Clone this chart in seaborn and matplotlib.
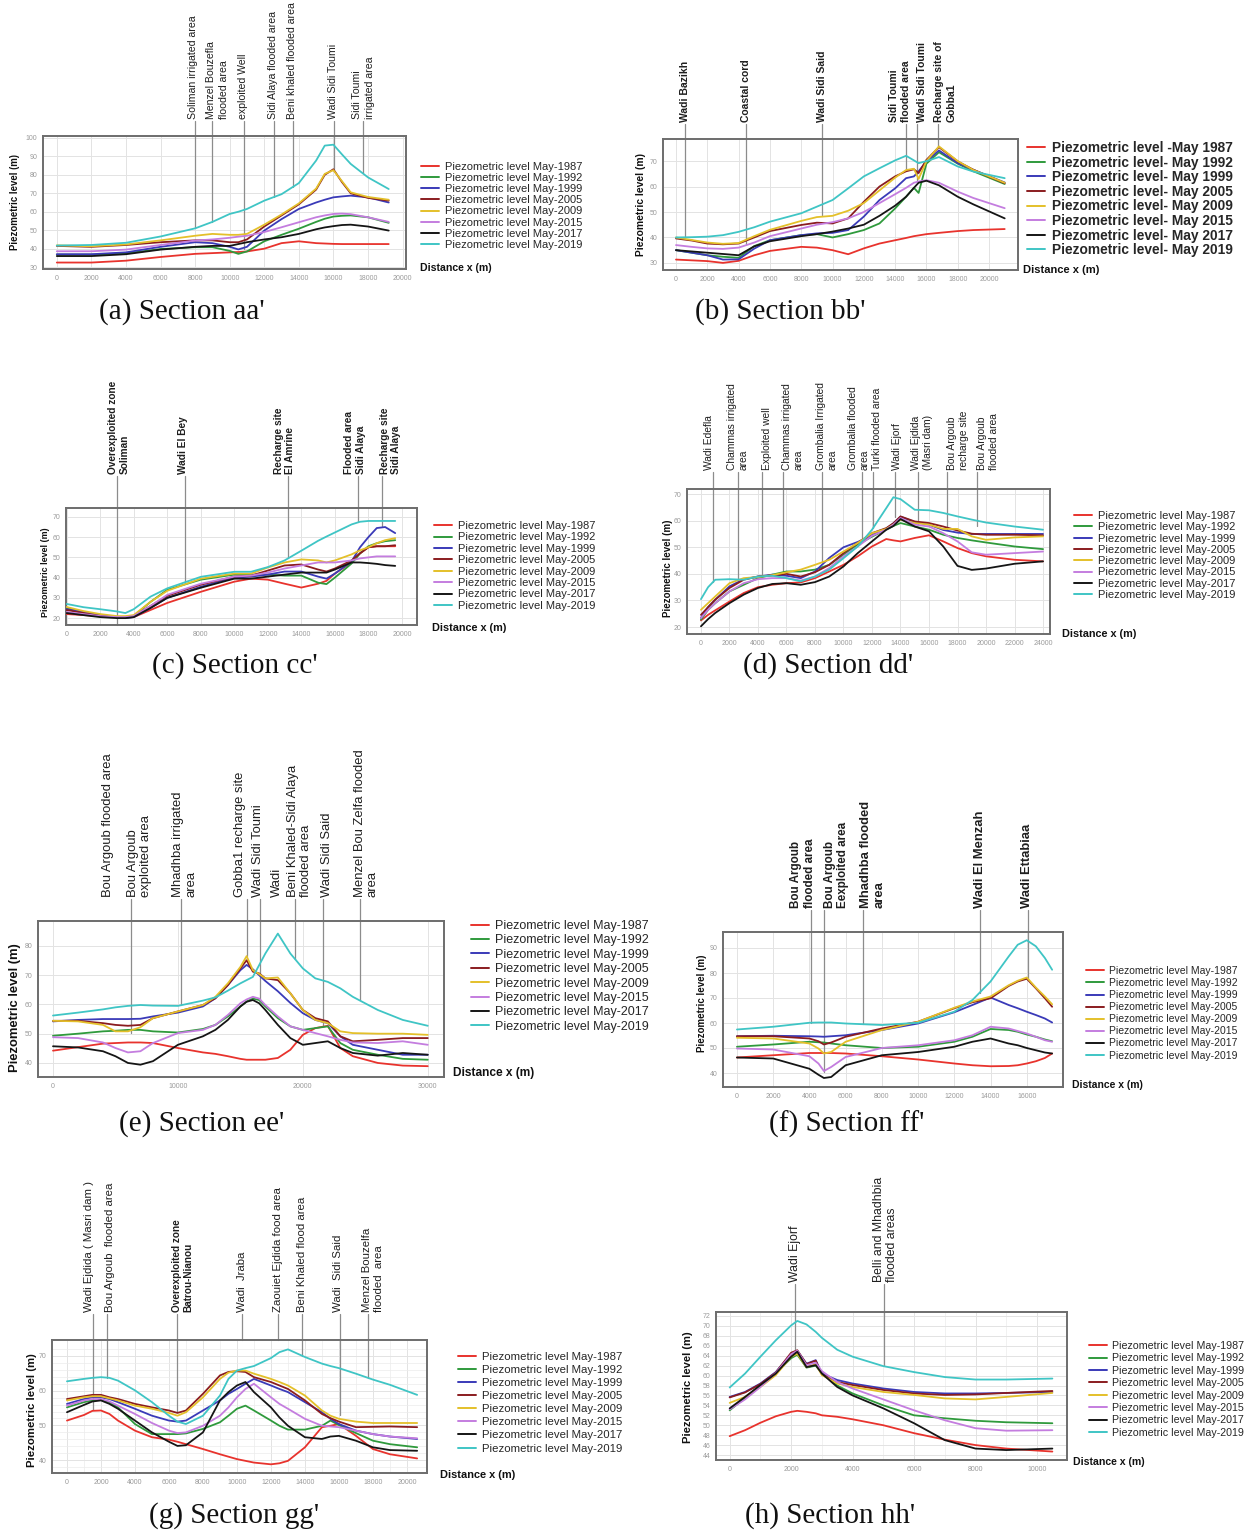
import numpy as np
import pandas as pd
import matplotlib
matplotlib.use("Agg")
import matplotlib.pyplot as plt
import matplotlib.transforms as mtrans
from matplotlib.lines import Line2D
import seaborn as sns

YEARS = ["1987", "1992", "1999", "2005", "2009", "2015", "2017", "2019"]
COLORS = ["#e8332d", "#2f9a3c", "#3a3ab8", "#8a1c1f", "#e4c02a", "#c47ddf", "#151515", "#3fc5c5"]

# ---------------- Section aa' ----------------
a_x = [0, 2000, 4000, 6000, 8000, 9000, 10000, 10500, 11000, 12000, 13000, 14000, 15000, 15500, 16000, 16500, 17000, 18000, 19200]
a_1987 = [32.5, 32.5, 33.5, 35.5, 37.2, 37.6, 38.0, 38.2, 38.5, 40.0, 43.0, 44.0, 43.0, 42.8, 42.6, 42.5, 42.5, 42.5, 42.5]
a_1992 = [36.8, 36.8, 37.5, 39.8, 40.8, 40.8, 38.8, 37.2, 38.5, 44.0, 47.5, 50.8, 54.5, 56.2, 57.4, 57.8, 58.0, 57.0, 54.0]
a_1999 = [37.0, 37.0, 38.0, 41.0, 43.5, 43.0, 41.0, 39.6, 41.0, 49.8, 56.0, 61.5, 65.0, 66.5, 67.8, 68.3, 68.7, 67.8, 65.0]
a_2005 = [41.5, 41.0, 42.0, 43.5, 44.5, 44.5, 43.5, 43.5, 45.0, 52.0, 58.0, 64.0, 72.0, 80.0, 83.0, 76.0, 70.0, 67.5, 66.0]
a_2009 = [41.8, 41.3, 42.3, 44.5, 47.0, 48.0, 47.5, 47.5, 48.0, 53.0, 58.5, 64.5, 72.5, 80.5, 82.5, 76.5, 70.5, 68.0, 66.5]
a_2015 = [38.6, 38.6, 39.5, 42.0, 44.4, 45.0, 45.9, 46.5, 47.0, 49.0, 51.6, 54.3, 57.0, 58.0, 58.8, 59.0, 58.7, 57.0, 54.5]
a_2017 = [36.0, 36.0, 37.0, 39.5, 41.0, 41.5, 41.5, 42.5, 43.5, 45.0, 46.2, 48.0, 50.5, 51.5, 52.2, 52.8, 53.0, 52.0, 49.8]
a_2019 = [41.7, 42.0, 43.2, 46.6, 51.0, 54.5, 58.8, 60.0, 61.5, 66.0, 69.5, 75.5, 87.7, 95.8, 96.3, 91.0, 85.9, 78.6, 72.3]

# ---------------- Section bb' ----------------
b_x = [0, 1000, 2000, 3000, 4000, 5000, 6000, 8000, 9000, 10000, 11000, 12000, 13000, 14000, 14700, 15200, 15500, 16000, 16800, 18000, 19000, 21000]
b_1987 = [31.3, 31.0, 30.7, 30.0, 30.8, 33.0, 34.7, 36.3, 36.0, 35.0, 33.4, 35.7, 37.6, 38.9, 39.8, 40.5, 40.8, 41.3, 41.8, 42.5, 42.9, 43.3]
b_1992 = [35.0, 34.0, 33.0, 32.4, 32.0, 36.6, 38.9, 40.9, 41.3, 40.0, 41.3, 42.9, 45.5, 51.4, 56.0, 59.5, 57.5, 69.0, 73.5, 69.0, 66.0, 61.0]
b_1999 = [35.0, 34.0, 33.0, 31.3, 31.4, 35.6, 38.9, 40.9, 41.6, 41.8, 42.9, 48.2, 54.7, 59.3, 63.3, 64.0, 66.0, 69.9, 74.2, 69.2, 66.6, 61.6]
b_2005 = [39.6, 38.8, 37.6, 37.3, 37.6, 40.0, 42.5, 44.9, 45.8, 45.5, 47.5, 54.0, 60.0, 64.0, 66.0, 66.8, 65.3, 70.5, 75.5, 69.9, 66.6, 61.3]
b_2009 = [40.0, 39.0, 38.0, 37.5, 37.8, 40.5, 43.0, 46.5, 48.0, 48.5, 50.5, 53.5, 58.5, 63.5, 66.5, 67.0, 63.0, 70.0, 75.8, 70.0, 66.5, 61.5]
b_2015 = [37.0, 36.3, 35.7, 35.5, 36.0, 38.0, 40.5, 43.5, 45.0, 46.0, 47.5, 50.0, 53.5, 57.0, 59.5, 61.5, 62.0, 62.5, 61.5, 58.0, 55.5, 51.5]
b_2017 = [35.0, 34.5, 34.0, 33.5, 33.0, 36.5, 38.5, 40.5, 41.3, 42.3, 43.5, 45.0, 48.5, 52.5, 56.0, 59.5, 61.5, 62.3, 60.5, 56.0, 53.0, 47.5]
b_2019 = [40.0, 40.1, 40.3, 40.9, 42.2, 44.0, 46.2, 49.5, 52.1, 54.7, 59.3, 64.0, 67.2, 70.3, 72.1, 70.3, 69.2, 70.0, 71.6, 67.9, 65.9, 63.3]

# ---------------- Section cc' ----------------
c_x = [0, 1000, 2000, 3000, 3500, 4000, 5000, 6000, 8000, 10000, 11000, 12000, 13000, 14000, 15000, 15500, 16000, 17000, 17500, 18000, 18500, 19000, 19600]
c_1987 = [22.0, 21.5, 21.0, 20.5, 20.3, 20.5, 24.0, 27.5, 33.0, 38.0, 39.5, 39.0, 37.0, 35.1, 37.0, 38.4, 42.0, 47.6, 52.0, 55.0, 55.5, 55.5, 55.5]
c_1992 = [25.0, 23.0, 21.5, 20.5, 20.0, 21.0, 28.0, 34.0, 39.0, 41.5, 41.5, 41.5, 41.0, 41.0, 37.5, 36.8, 40.0, 47.0, 52.0, 55.5, 57.0, 58.0, 58.5]
c_1999 = [24.5, 23.0, 21.5, 20.5, 20.0, 20.5, 25.0, 30.0, 35.5, 40.0, 40.5, 41.5, 43.0, 43.0, 40.5, 39.5, 42.0, 48.0, 55.0, 60.0, 64.5, 65.0, 62.0]
c_2005 = [24.0, 22.5, 21.0, 20.5, 20.5, 21.0, 26.0, 31.0, 36.5, 40.5, 41.0, 43.5, 46.0, 46.5, 44.0, 43.0, 44.5, 48.5, 52.0, 55.0, 55.5, 55.5, 56.0]
c_2009 = [25.5, 23.5, 22.0, 21.0, 21.0, 21.5, 28.0, 33.5, 39.5, 42.0, 42.0, 45.0, 47.5, 49.0, 48.5, 47.5, 48.5, 51.5, 53.5, 55.0, 57.0, 58.5, 59.5]
c_2015 = [23.0, 22.0, 21.0, 20.5, 20.5, 21.0, 26.0, 31.5, 37.0, 40.5, 41.0, 42.5, 44.5, 46.0, 47.5, 47.5, 47.5, 48.5, 49.5, 50.0, 50.5, 50.5, 50.5]
c_2017 = [22.5, 21.5, 20.5, 20.0, 20.0, 20.5, 25.0, 30.0, 35.0, 39.5, 39.5, 40.5, 41.5, 42.5, 42.5, 42.5, 44.0, 47.5, 47.5, 47.2, 46.8, 46.2, 45.8]
c_2019 = [27.0, 25.4, 24.4, 23.3, 22.5, 24.4, 30.6, 34.7, 40.4, 42.9, 42.9, 45.2, 48.5, 53.3, 58.2, 60.3, 62.3, 66.3, 67.6, 68.0, 68.0, 68.0, 68.0]

# ---------------- Section dd' ----------------
d_x = [0, 500, 1000, 2000, 3000, 4000, 5000, 6000, 7000, 8000, 9000, 10000, 11000, 12000, 13000, 13500, 14000, 15000, 16000, 17000, 18000, 19000, 20000, 22000, 24000]
d_1987 = [22.5, 24.6, 26.3, 29.6, 32.8, 35.0, 35.9, 36.5, 36.8, 38.4, 40.9, 43.4, 46.6, 50.3, 53.1, 52.6, 52.2, 53.5, 54.5, 52.2, 49.7, 47.8, 46.6, 45.3, 44.7]
d_1992 = [22.8, 26.5, 29.0, 33.4, 35.9, 38.4, 39.7, 40.9, 40.9, 41.6, 43.4, 47.2, 51.0, 54.0, 56.6, 58.0, 59.1, 57.8, 56.6, 54.7, 53.5, 52.6, 51.8, 50.3, 49.3]
d_1999 = [23.5, 27.5, 30.3, 35.3, 38.0, 39.0, 39.7, 39.3, 38.4, 40.9, 46.0, 50.0, 52.0, 54.5, 57.0, 59.0, 61.5, 59.5, 58.5, 56.5, 55.5, 55.0, 55.0, 55.0, 55.0]
d_2005 = [24.6, 27.5, 30.3, 34.7, 37.8, 39.0, 39.4, 40.0, 39.0, 40.6, 43.4, 47.8, 51.6, 55.3, 57.2, 59.0, 61.6, 59.7, 59.1, 57.8, 56.3, 55.1, 54.7, 54.7, 54.5]
d_2009 = [26.5, 29.0, 31.5, 36.5, 38.4, 38.8, 39.5, 40.6, 41.6, 43.4, 45.3, 48.4, 51.6, 55.3, 56.9, 58.5, 60.4, 59.1, 58.5, 56.9, 56.9, 54.1, 52.8, 53.7, 54.1]
d_2015 = [23.4, 26.5, 29.0, 33.4, 36.5, 38.0, 38.4, 38.4, 37.5, 39.0, 42.2, 46.6, 50.3, 54.3, 56.6, 58.5, 61.0, 58.5, 57.8, 55.3, 52.2, 48.1, 47.2, 47.8, 48.4]
d_2017 = [20.3, 23.0, 25.3, 29.0, 32.2, 34.7, 36.2, 36.5, 35.9, 36.9, 39.0, 42.8, 47.8, 52.2, 56.6, 58.0, 60.6, 57.8, 56.0, 50.3, 43.0, 41.5, 42.0, 43.8, 44.7]
d_2019 = [30.5, 35.0, 37.8, 38.0, 37.8, 39.0, 39.3, 38.4, 37.2, 39.0, 41.6, 45.9, 50.3, 56.6, 64.7, 68.8, 68.1, 64.1, 63.9, 62.9, 61.6, 60.4, 59.3, 57.8, 56.6]

# ---------------- Section ee' ----------------
e_x = [0, 2000, 4000, 5000, 6000, 7000, 8000, 10000, 12000, 13000, 14000, 15000, 15500, 16000, 16500, 17000, 18000, 19000, 20000, 21000, 22000, 23000, 24000, 26000, 28000, 30000]
e_1987 = [44.2, 45.4, 46.6, 46.8, 47.0, 47.0, 46.8, 45.1, 43.6, 43.1, 42.3, 41.4, 41.1, 41.1, 41.1, 41.1, 41.7, 44.5, 49.6, 51.9, 52.7, 45.1, 42.3, 40.0, 39.1, 38.9]
e_1992 = [49.3, 50.0, 50.8, 51.0, 51.3, 51.3, 50.8, 50.4, 51.6, 53.0, 55.9, 59.3, 61.0, 62.0, 61.5, 59.3, 55.3, 52.5, 51.3, 51.9, 52.5, 46.8, 44.5, 42.8, 41.4, 41.1]
e_1999 = [54.2, 54.7, 55.0, 55.0, 55.0, 55.1, 55.9, 57.2, 59.3, 62.1, 66.6, 71.7, 73.5, 72.0, 70.0, 68.0, 64.5, 60.5, 57.0, 54.7, 53.6, 49.1, 46.2, 44.5, 42.8, 42.8]
e_2005 = [54.4, 54.4, 53.6, 53.0, 52.7, 53.0, 55.3, 57.6, 59.8, 62.1, 66.6, 72.3, 75.1, 71.2, 70.6, 68.9, 68.3, 63.8, 58.1, 55.3, 54.2, 49.1, 47.4, 47.9, 48.5, 48.5]
e_2009 = [54.4, 54.2, 53.0, 50.8, 50.8, 52.2, 55.3, 57.6, 59.8, 62.6, 67.2, 72.8, 76.5, 71.7, 70.4, 68.9, 69.2, 63.8, 58.1, 54.7, 53.6, 50.8, 50.2, 50.0, 50.0, 49.6]
e_2015 = [48.8, 48.5, 47.0, 45.1, 43.6, 44.0, 46.8, 50.2, 51.3, 53.0, 56.4, 60.4, 61.7, 62.6, 62.0, 59.8, 55.9, 52.5, 51.3, 50.2, 49.1, 47.9, 47.0, 46.8, 47.4, 46.2]
e_2017 = [45.7, 45.3, 44.0, 42.3, 40.0, 39.4, 40.6, 46.2, 49.1, 51.3, 54.7, 59.3, 60.9, 61.5, 60.4, 58.1, 53.0, 48.5, 46.2, 46.8, 47.4, 45.1, 43.4, 42.5, 43.4, 42.8]
e_2019 = [56.2, 57.2, 58.3, 59.0, 59.5, 59.8, 59.6, 59.5, 61.3, 62.4, 64.7, 67.2, 68.3, 69.4, 73.4, 77.4, 84.2, 77.4, 72.3, 68.9, 67.7, 65.5, 62.6, 58.1, 54.7, 52.7]

# ---------------- Section ff' ----------------
f_x = [0, 2000, 4000, 4500, 4800, 5200, 6000, 8000, 10000, 12000, 13000, 14000, 15000, 15500, 16000, 16500, 17000, 17400]
f_1987 = [46.2, 47.1, 48.0, 48.0, 48.0, 48.0, 47.8, 46.7, 45.4, 43.8, 43.1, 42.7, 42.8, 43.1, 43.8, 44.7, 46.0, 47.8]
f_1992 = [50.5, 51.4, 52.5, 52.3, 52.2, 51.8, 51.1, 50.0, 50.5, 52.5, 54.5, 57.6, 57.2, 56.5, 55.4, 54.5, 53.4, 52.7]
f_1999 = [54.7, 54.9, 54.7, 54.6, 54.5, 54.7, 55.1, 57.2, 59.8, 64.3, 67.2, 70.2, 67.2, 65.9, 64.5, 63.2, 61.8, 60.2]
f_2005 = [54.7, 54.7, 53.8, 52.7, 51.4, 52.2, 54.5, 57.8, 60.5, 65.9, 68.3, 69.9, 74.8, 76.6, 77.7, 73.9, 69.9, 66.5]
f_2009 = [54.1, 53.8, 51.8, 49.8, 47.8, 48.4, 52.5, 57.2, 60.5, 66.1, 68.6, 70.6, 75.1, 76.9, 78.2, 74.2, 70.6, 67.5]
f_2015 = [49.8, 49.4, 46.7, 43.8, 40.8, 42.4, 46.4, 50.0, 51.1, 53.1, 55.1, 58.5, 57.8, 56.8, 55.8, 54.5, 53.1, 52.5]
f_2017 = [46.2, 45.8, 41.7, 39.3, 38.0, 38.4, 43.1, 47.1, 48.4, 50.5, 52.5, 53.8, 51.8, 51.1, 50.0, 49.1, 48.2, 47.8]
f_2019 = [57.4, 58.5, 60.1, 60.2, 60.2, 60.2, 59.8, 59.2, 60.1, 64.5, 69.2, 76.6, 86.6, 91.3, 93.1, 90.7, 86.0, 81.3]

# ---------------- Section gg' ----------------
g_x = [0, 1000, 1500, 2000, 2500, 3000, 4000, 5000, 6000, 6500, 7000, 8000, 9000, 9500, 10000, 10500, 11000, 12000, 12500, 13000, 14000, 15000, 15500, 16000, 17000, 18000, 19000, 20600]
g_1987 = [51.4, 53.0, 54.2, 54.3, 53.3, 51.4, 48.5, 46.6, 45.9, 45.3, 44.6, 43.2, 41.7, 41.0, 40.3, 39.8, 39.3, 38.8, 39.1, 39.8, 43.7, 49.5, 49.9, 50.4, 47.0, 43.2, 41.7, 40.5]
g_1992 = [55.2, 56.7, 57.2, 57.4, 56.7, 55.2, 50.4, 47.5, 47.5, 47.5, 47.7, 49.0, 50.9, 52.8, 54.8, 55.7, 54.3, 51.4, 49.9, 48.8, 48.8, 49.9, 51.4, 50.1, 47.8, 45.6, 44.6, 43.7]
g_1999 = [56.2, 57.6, 58.1, 58.1, 57.6, 56.7, 54.8, 52.8, 51.4, 51.1, 51.4, 54.3, 57.2, 59.1, 60.5, 62.0, 63.4, 61.5, 60.5, 59.6, 56.7, 53.8, 51.9, 50.4, 48.5, 47.5, 46.8, 46.1]
g_2005 = [57.6, 58.4, 58.8, 58.8, 58.1, 57.6, 56.2, 55.2, 54.3, 53.6, 54.3, 59.1, 64.4, 65.4, 65.6, 65.4, 63.9, 62.5, 61.5, 60.5, 57.2, 53.3, 52.1, 51.1, 49.5, 49.6, 49.7, 49.5]
g_2009 = [57.2, 58.1, 58.4, 58.4, 57.8, 57.2, 55.7, 54.8, 53.6, 52.8, 53.8, 58.1, 63.4, 65.2, 65.8, 65.8, 64.9, 63.4, 62.5, 61.5, 58.6, 54.3, 52.8, 51.9, 51.1, 50.7, 50.7, 50.7]
g_2015 = [55.7, 57.2, 57.6, 57.6, 56.9, 55.7, 53.3, 50.7, 48.5, 47.8, 48.0, 49.9, 52.8, 55.2, 58.1, 60.5, 62.0, 58.1, 56.2, 54.8, 51.9, 49.9, 49.7, 49.5, 48.5, 47.5, 46.8, 46.3]
g_2017 = [53.8, 55.9, 56.9, 57.2, 56.2, 54.8, 51.4, 48.0, 45.3, 44.1, 44.3, 48.0, 57.2, 59.6, 61.5, 62.5, 59.6, 55.2, 52.3, 49.9, 46.6, 46.1, 46.8, 47.0, 45.6, 43.7, 42.9, 42.7]
g_2019 = [62.7, 63.4, 63.7, 63.9, 63.7, 62.9, 60.1, 56.7, 52.8, 51.1, 50.4, 52.8, 58.6, 63.4, 65.8, 66.5, 67.1, 69.4, 71.1, 71.9, 69.7, 67.8, 67.1, 66.5, 64.9, 63.2, 61.7, 58.8]

# ---------------- Section hh' ----------------
h_x = [0, 500, 1000, 1500, 2000, 2200, 2500, 2800, 3000, 3500, 4000, 5000, 6000, 7000, 8000, 9000, 10500]
h_1987 = [47.8, 49.0, 50.5, 51.8, 52.7, 52.9, 52.7, 52.4, 52.0, 51.7, 51.2, 50.0, 48.4, 47.1, 46.0, 45.3, 44.7]
h_1992 = [53.0, 55.5, 58.0, 60.5, 63.5, 64.2, 61.6, 62.0, 60.5, 58.0, 56.4, 54.0, 52.0, 51.4, 50.9, 50.6, 50.4]
h_1999 = [55.7, 56.7, 58.4, 60.7, 64.4, 65.0, 62.4, 63.1, 60.4, 59.1, 58.4, 57.4, 56.7, 56.4, 56.4, 56.5, 56.7]
h_2005 = [55.6, 56.6, 58.3, 60.6, 64.6, 65.1, 62.3, 63.0, 60.3, 58.7, 58.1, 57.1, 56.4, 56.1, 56.2, 56.5, 56.9]
h_2009 = [54.5, 55.7, 57.7, 60.1, 63.8, 64.4, 61.7, 62.3, 60.1, 58.4, 57.7, 56.7, 56.1, 55.4, 55.2, 55.7, 56.5]
h_2015 = [53.2, 55.2, 57.7, 60.5, 64.3, 65.0, 62.1, 62.6, 60.9, 58.7, 57.4, 55.2, 53.0, 51.0, 49.4, 48.9, 49.0]
h_2017 = [53.4, 55.7, 58.1, 60.4, 63.8, 64.8, 61.7, 62.1, 60.4, 57.7, 56.0, 53.4, 50.4, 47.0, 45.3, 45.0, 45.3]
h_2019 = [57.6, 60.4, 63.8, 67.1, 70.1, 71.0, 70.3, 68.8, 67.6, 65.2, 63.8, 61.9, 60.7, 59.7, 59.2, 59.2, 59.4]

# legend labels
LAB_STD = ["Piezometric level May-" + y for y in YEARS]
LAB_B = ["Piezometric level -May 1987"] + ["Piezometric level- May " + y for y in YEARS[1:]]

# site annotations: (label, line x, text x, line end level)
a_notes = [("Soliman irrigated area", 8000, 7900, None),
           ("Menzel Bouzefla\nflooded area", 9000, 9300, None),
           ("exploited Well", 10800, 10750, 40),
           ("Sidi Alaya flooded area", 12550, 12500, None),
           ("Beni khaled flooded area", 13650, 13600, None),
           ("Wadi Sidi Toumi", 16050, 16000, 83),
           ("Sidi Toumi\nirrigated area", 17700, 17750, None)]
b_notes = [("Wadi Bazikh", 600, 580, None),
           ("Coastal cord", 4450, 4450, 37.5),
           ("Wadi Sidi Said", 9300, 9300, 49),
           ("Sidi Toumi\nflooded area", 14700, 14300, 67),
           ("Wadi Sidi Toumi", 15400, 15700, 62.5),
           ("Recharge site of\nGobba1", 16750, 17200, None)]
c_notes = [("Overexploited zone\nSoliman", 3000, 3100, "bottom"),
           ("Wadi El Bey", 7050, 6950, None),
           ("Recharge site\nEl Amrine", 13200, 13000, None),
           ("Flooded area\nSidi Alaya", 17400, 17200, None),
           ("Recharge site\nSidi Alaya", 18800, 19300, 65.5)]
d_notes = [("Wadi Edefla", 850, 560, None),
           ("Chammas irrigated\narea", 2600, 2600, None),
           ("Exploited well", 4280, 4630, None),
           ("Chammas irrigated\narea", 5750, 6460, None),
           ("Grombalia Irrigated\narea", 8500, 8840, None),
           ("Grombalia flooded\narea", 11300, 11090, None),
           ("Turki flooded area", 12070, 12350, None),
           ("Wadi Ejorf", 13600, 13750, 61.5),
           ("Wadi Ejdida\n(Masri dam)", 15230, 15510, 58.5),
           ("Bou Argoub\nrecharge site", 17260, 18030, 57),
           ("Bou Argoub\nflooded area", 19370, 20140, 58)]
e_notes = [("Bou Argoub flooded area", None, 4400, None),
           ("Bou Argoub\nexploited area", 6240, 6900, 50.2),
           ("Mhadhba irrigated\narea", 10240, 10560, None),
           ("Gobba1 recharge site", 15500, 14960, None),
           ("Wadi Sidi Toumi", 16600, 16400, 61),
           ("Wadi", None, 17900, None),
           ("Beni Khaled-Sidi Alaya\nflooded area", 19360, 19760, None),
           ("Wadi Sidi Said", 21600, 21900, 52.5),
           ("Menzel Bou Zelfa flooded\narea", 24560, 25100, None)]
f_notes = [("Bou Argoub\nflooded area", 4080, 3640, None),
           ("Bou Argoub\nEexploited area", 4800, 5500, 40.5),
           ("Mhadhba flooded\narea", 6950, 7500, None),
           ("Wadi El Menzah", 13400, 13400, None),
           ("Wadi Ettabiaa", 16050, 16000, 77.5)]
g_notes = [("Wadi Ejdida ( Masri dam )", 1530, 1300, 54.3),
           ("Bou Argoub  flooded area", 2350, 2530, None),
           ("Overexploited zone\nBatrou-Nianou", 6470, 6820, 53.8),
           ("Wadi  Jraba", 10290, 10290, "top"),
           ("Zaouiet Ejdida food area", 12410, 12410, "top"),
           ("Beni Khaled flood area", 13820, 13820, None),
           ("Wadi  Sidi Said", 16060, 15950, 53),
           ("Menzel Bouzelfa\nflooded  area", 17700, 18000, None)]
h_notes = [("Wadi Ejorf", 2140, 2140, 64.5),
           ("Belli and Mhadhbia\nflooded areas", 5030, 5060, None)]

sns.set_style("white")
plt.rcParams["font.family"] = ["Liberation Sans", "DejaVu Sans"]

W, H = 1246, 1533
fig = plt.figure(figsize=(W / 100, H / 100), dpi=100)
fig.patch.set_facecolor("white")


def fy(py):
    return 1 - py / H


PANELS = [
    dict(x=a_x, s=[a_1987, a_1992, a_1999, a_2005, a_2009, a_2015, a_2017, a_2019], notes=a_notes,
         box=(43, 136, 406, 269), xlim=(-800, 20200), ylim=(29, 101), xt=range(0, 20001, 2000), yt=range(30, 101, 10),
         nfs=7.6, nw="normal", nls=1.45, nb=121, leg=(421, 162, 8.0, "normal", 0.10), labels=LAB_STD,
         xl=(420, 268, 7.6), yl=(15, 202, 6.9), cap=("(a) Section aa'", 182, 312)),
    dict(x=b_x, s=[b_1987, b_1992, b_1999, b_2005, b_2009, b_2015, b_2017, b_2019], notes=b_notes,
         box=(663, 139, 1018, 270), xlim=(-830, 21850), ylim=(27.2, 78.7), xt=range(0, 20001, 2000), yt=range(30, 71, 10),
         nfs=7.5, nw="bold", nls=1.25, nb=124, leg=(1027, 141, 9.9, "bold", 0.043), labels=LAB_B,
         xl=(1023, 270, 8.0), yl=(641, 205, 7.4), cap=("(b) Section bb'", 780, 312)),
    dict(x=c_x, s=[c_1987, c_1992, c_1999, c_2005, c_2009, c_2015, c_2017, c_2019], notes=c_notes,
         box=(66, 508, 417, 625), xlim=(-40, 20900), ylim=(16.6, 74.4), xt=range(0, 20001, 2000), yt=range(20, 71, 10),
         nfs=7.3, nw="bold", nls=1.15, nb=476, leg=(434, 521, 8.0, "normal", 0.126), labels=LAB_STD,
         xl=(432, 628, 7.8), yl=(45, 572, 6.4), cap=("(c) Section cc'", 235, 666)),
    dict(x=d_x, s=[d_1987, d_1992, d_1999, d_2005, d_2009, d_2015, d_2017, d_2019], notes=d_notes,
         box=(687, 489, 1050, 634), xlim=(-980, 24490), ylim=(17.4, 71.9), xt=range(0, 24001, 2000), yt=range(20, 71, 10),
         nfs=7.4, nw="normal", nls=1.25, nb=472, leg=(1074, 511, 8.0, "normal", 0.117), labels=LAB_STD,
         xl=(1062, 634, 7.8), yl=(668, 568, 7.0), cap=("(d) Section dd'", 828, 666)),
    dict(x=e_x, s=[e_1987, e_1992, e_1999, e_2005, e_2009, e_2015, e_2017, e_2019], notes=e_notes,
         box=(38, 921, 444, 1077), xlim=(-1200, 31300), ylim=(35.2, 88.5), xt=range(0, 30001, 10000), yt=range(40, 81, 10),
         nfs=9.4, nw="normal", nls=1.1, nb=899, leg=(471, 920, 9.0, "normal", 0.19), labels=LAB_STD,
         xl=(453, 1073, 8.6), yl=(15, 1008, 9.4), cap=("(e) Section ee'", 202, 1124)),
    dict(x=f_x, s=[f_1987, f_1992, f_1999, f_2005, f_2009, f_2015, f_2017, f_2019], notes=f_notes,
         box=(723, 932, 1063, 1087), xlim=(-770, 18000), ylim=(34.4, 96.4), xt=range(0, 16001, 2000), yt=range(40, 91, 10),
         nfs=9.4, nw="bold", nls=1.15, nb=910, leg=(1086, 966, 7.5, "normal", 0.20), labels=LAB_STD,
         xl=(1072, 1085, 7.5), yl=(702, 1003, 7.0), cap=("(f) Section ff'", 847, 1124)),
    dict(x=g_x, s=[g_1987, g_1992, g_1999, g_2005, g_2009, g_2015, g_2017, g_2019], notes=g_notes,
         box=(52, 1340, 427, 1473), xlim=(-880, 21180), ylim=(36.3, 74.6), xt=range(0, 20001, 2000), yt=range(40, 71, 10),
         nfs=8.2, nw="normal", nls=1.15, nb=1314, leg=(458, 1352, 8.2, "normal", 0.27), labels=LAB_STD,
         xl=(440, 1475, 7.9), yl=(32, 1410, 8.2), cap=("(g) Section gg'", 234, 1516)),
    dict(x=h_x, s=[h_1987, h_1992, h_1999, h_2005, h_2009, h_2015, h_2017, h_2019], notes=h_notes,
         box=(716, 1312, 1067, 1460), xlim=(-445, 10976), ylim=(43, 72.8), xt=range(0, 10001, 2000), yt=range(44, 73, 2),
         nfs=8.8, nw="normal", nls=1.1, nb=1284, leg=(1089, 1341, 7.7, "normal", 0.224), labels=LAB_STD,
         xl=(1073, 1462, 7.6), yl=(688, 1387, 8.1), cap=("(h) Section hh'", 830, 1516)),
]

for i, P in enumerate(PANELS):
    x0, y0, x1, y1 = P["box"]
    rect = [x0 / W, fy(y1), (x1 - x0) / W, (y1 - y0) / H]
    ax = fig.add_axes(rect)
    frames = []
    for yr, vals in zip(YEARS, P["s"]):
        frames.append(pd.DataFrame({"x": P["x"], "level": vals, "year": yr}))
    df = pd.concat(frames, ignore_index=True)
    sns.lineplot(data=df, x="x", y="level", hue="year", hue_order=YEARS, palette=COLORS,
                 ax=ax, legend=False, linewidth=1.3, estimator=None, sort=False, zorder=3)
    ax.set_xlim(*P["xlim"])
    ax.set_ylim(*P["ylim"])
    ax.set_xticks(list(P["xt"]))
    ax.set_yticks(list(P["yt"]))
    ax.set_xlabel("")
    ax.set_ylabel("")
    ax.grid(True, color="#e3e3e3", lw=0.7, zorder=0)
    if i == 6:
        ax.set_yticks(np.arange(38, 74, 2), minor=True)
        ax.set_xticks(np.arange(1000, 21000, 2000), minor=True)
        ax.grid(True, which="minor", color="#ececec", lw=0.5)
    if i == 7:
        ax.set_xticks(np.arange(1000, 10001, 2000), minor=True)
        ax.grid(True, which="minor", axis="x", color="#ececec", lw=0.5)
    ax.set_axisbelow(True)
    for sp in ax.spines.values():
        sp.set_color("#6d6d6d")
        sp.set_linewidth(1.4)
    ax.tick_params(axis="both", which="both", length=0, labelsize=5, labelcolor="#9a9a9a", pad=4)
    ax.tick_params(axis="x", which="minor", labelbottom=False)

    # site annotations
    tr_text = mtrans.blended_transform_factory(ax.transData, fig.transFigure)
    tr_line = mtrans.blended_transform_factory(ax.transData, ax.transAxes)
    top_fig = fy(P["nb"])
    top_ax = (top_fig - rect[1]) / rect[3]
    ymin, ymax = P["ylim"]
    for label, lx, tx, end in P["notes"]:
        w = P["nw"]
        fs = P["nfs"]
        if label.startswith("Overexploited zone\nBatrou"):
            w, fs = "bold", 7.2
        if i == 5 and label.startswith("Bou Argoub"):
            fs = 8.4
        ax.text(tx, top_fig + 0.0015, label, transform=tr_text, rotation=90, ha="center", va="bottom",
                multialignment="left", fontsize=fs, fontweight=w, linespacing=P["nls"], color="#1e1e1e")
        if lx is None:
            continue
        if end == "top":
            ye = 1.0
        elif end == "bottom":
            ye = 0.0
        else:
            lev = end if end is not None else max(np.interp(lx, P["x"], s) for s in P["s"])
            ye = (lev - ymin) / (ymax - ymin)
        ax.plot([lx, lx], [top_ax, ye], transform=tr_line, color="#8c8c8c", lw=0.9, clip_on=False, zorder=2)
    ax.set_xlim(*P["xlim"])
    ax.set_ylim(*P["ylim"])

    # legend
    lx_, ly_, lfs, lw_, lsp = P["leg"]
    fpx = lfs * 100 / 72
    handles = [Line2D([0], [0], color=c, lw=1.4) for c in COLORS]
    fig.legend(handles, P["labels"], loc="upper left", bbox_to_anchor=(lx_ / W, fy(ly_)),
               bbox_transform=fig.transFigure, frameon=False, prop={"size": lfs, "weight": lw_},
               handlelength=18 / fpx, handletextpad=0.5, labelspacing=lsp,
               borderpad=0, borderaxespad=0)

    xlx, xly, xfs = P["xl"]
    fig.text(xlx / W, fy(xly), "Distance x (m)", ha="left", va="center", fontsize=xfs, fontweight="bold", color="#111")
    ylx, yly, yfs = P["yl"]
    fig.text(ylx / W, fy(yly), "Piezometric level (m)", rotation=90, ha="center", va="center",
             fontsize=yfs, fontweight="bold", color="#111")
    cap, cx, cy = P["cap"]
    fig.text(cx / W, fy(cy), cap, ha="center", va="center", fontsize=21, family="Liberation Serif", color="#111")

fig.savefig("out.png", dpi=100, facecolor="white")
